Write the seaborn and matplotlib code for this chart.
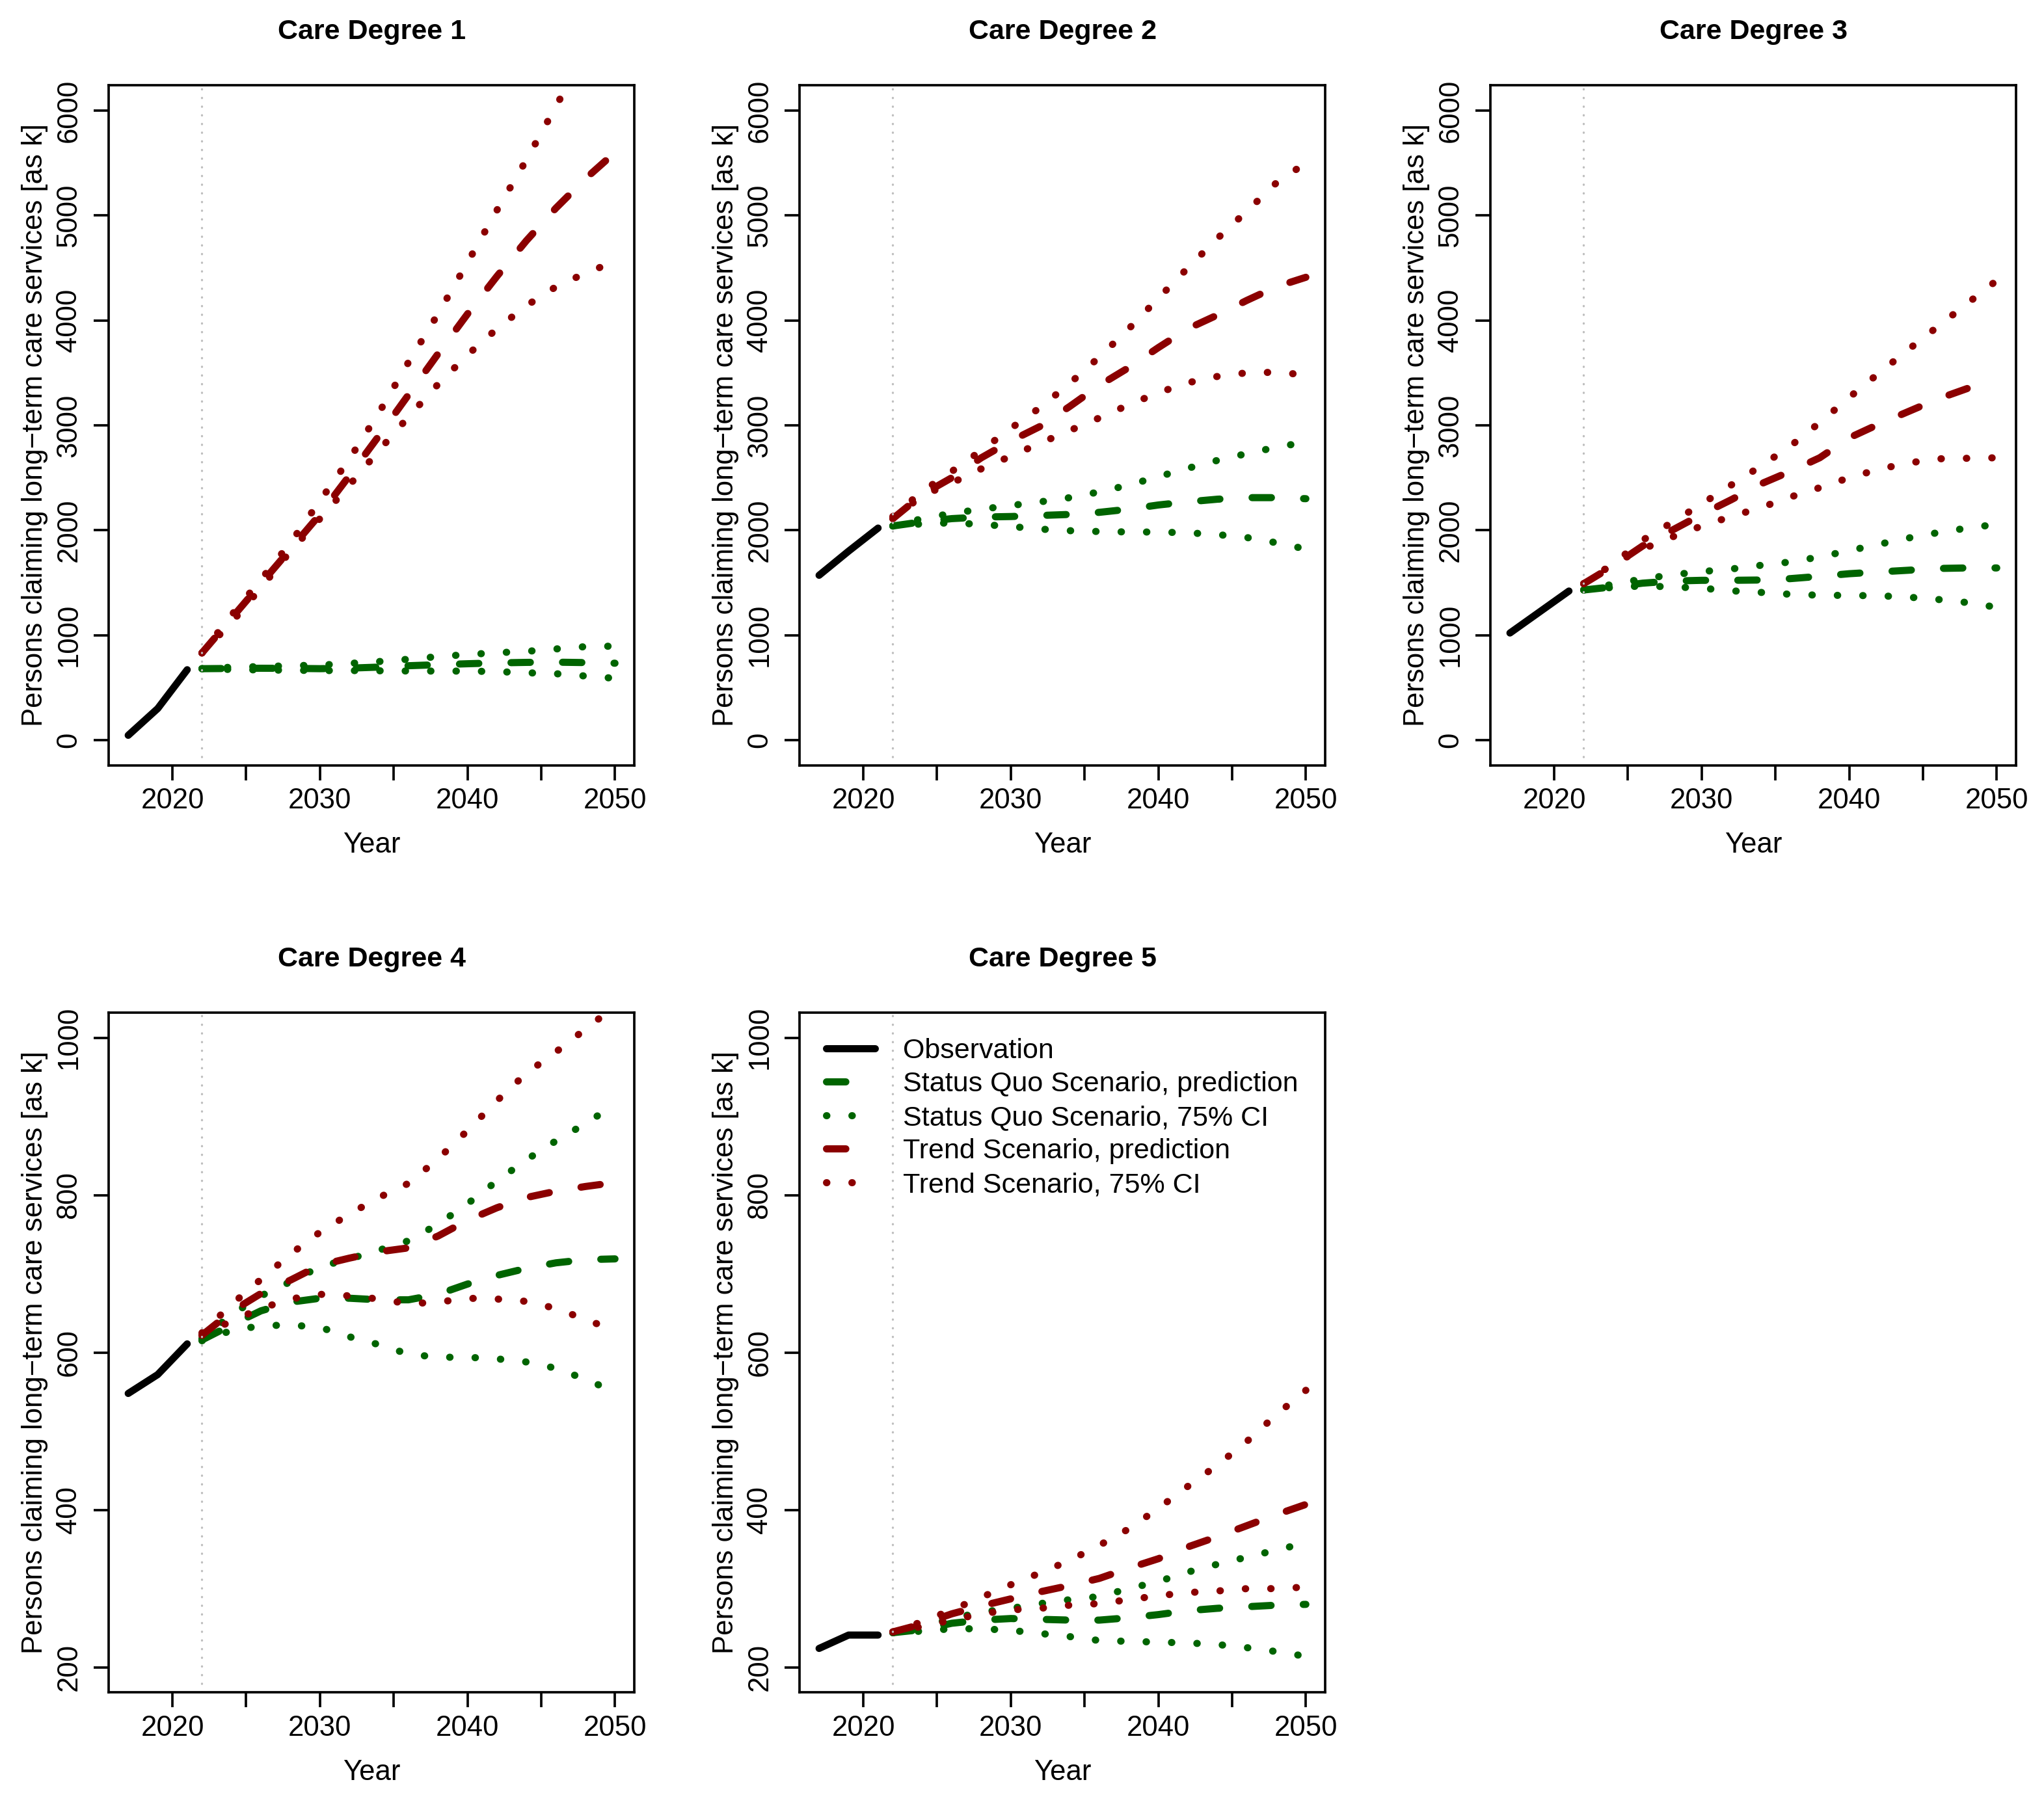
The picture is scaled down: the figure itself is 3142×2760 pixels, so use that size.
import seaborn as sns
import matplotlib.pyplot as plt

# observed years and forecast years
OBS_YEARS = [2017, 2019, 2021]
PRED_YEARS = [2022, 2024, 2026, 2028, 2030, 2032, 2034, 2036,
              2038, 2040, 2042, 2044, 2046, 2048, 2050]

# Care Degree 1
D1_OBS = [45, 300, 670]
D1_SQ = [680, 682, 684, 683, 680, 685, 695, 708, 718, 727, 735, 740, 742, 738, 732]
D1_SQ_HI = [680, 694, 700, 708, 714, 730, 748, 770, 795, 815, 832, 845, 868, 890, 895]
D1_SQ_LO = [680, 672, 668, 665, 662, 662, 660, 658, 657, 657, 652, 641, 632, 610, 588]
D1_TR = [830, 1160, 1490, 1820, 2150, 2520, 2900, 3290, 3680, 4060, 4420, 4760, 5070, 5350, 5600]
D1_TR_HI = [830, 1190, 1530, 1880, 2280, 2680, 3120, 3600, 4060, 4550, 5050, 5530, 6040, 6550, 7050]
D1_TR_LO = [830, 1120, 1450, 1800, 2110, 2430, 2760, 3080, 3390, 3670, 3920, 4140, 4320, 4450, 4560]

# Care Degree 2
D2_OBS = [1570, 1800, 2020]
D2_SQ = [2040, 2080, 2110, 2125, 2130, 2140, 2150, 2170, 2200, 2240, 2270, 2295, 2310, 2310, 2300]
D2_SQ_HI = [2040, 2110, 2160, 2200, 2235, 2270, 2310, 2365, 2430, 2510, 2590, 2665, 2730, 2790, 2840]
D2_SQ_LO = [2040, 2060, 2070, 2055, 2035, 2010, 1995, 1987, 1983, 1982, 1975, 1958, 1930, 1880, 1820]
D2_TR = [2110, 2340, 2500, 2690, 2850, 2990, 3180, 3380, 3550, 3740, 3920, 4050, 4190, 4320, 4410]
D2_TR_HI = [2130, 2370, 2560, 2760, 2970, 3170, 3400, 3650, 3920, 4210, 4500, 4780, 5040, 5310, 5500]
D2_TR_LO = [2110, 2330, 2450, 2585, 2705, 2830, 2950, 3070, 3195, 3310, 3405, 3465, 3500, 3505, 3480]

# Care Degree 3
D3_OBS = [1020, 1220, 1420]
D3_SQ = [1430, 1460, 1495, 1515, 1522, 1522, 1525, 1538, 1560, 1585, 1602, 1618, 1635, 1640, 1640]
D3_SQ_HI = [1430, 1485, 1535, 1575, 1605, 1630, 1665, 1697, 1745, 1805, 1865, 1925, 1976, 2020, 2055]
D3_SQ_LO = [1430, 1455, 1468, 1460, 1447, 1422, 1407, 1389, 1380, 1378, 1375, 1362, 1340, 1310, 1265]
D3_TR = [1490, 1660, 1850, 2000, 2150, 2290, 2440, 2560, 2690, 2880, 3010, 3130, 3250, 3350, 3440]
D3_TR_HI = [1490, 1680, 1905, 2075, 2250, 2430, 2610, 2800, 3025, 3265, 3495, 3720, 3940, 4160, 4380]
D3_TR_LO = [1490, 1680, 1820, 1935, 2040, 2130, 2215, 2315, 2405, 2500, 2580, 2640, 2680, 2685, 2690]

# Care Degree 4
D4_OBS = [548, 572, 611]
D4_SQ = [616, 635, 653, 664, 669, 669, 667, 667, 674, 687, 698, 707, 714, 718, 719]
D4_SQ_HI = [618, 648, 672, 690, 709, 719, 730, 742, 763, 789, 818, 845, 869, 891, 915]
D4_SQ_LO = [615, 628, 634, 635, 632, 620, 610, 598, 594, 594, 592, 588, 580, 566, 550]
D4_TR = [622, 652, 675, 692, 711, 720, 728, 733, 748, 768, 784, 797, 805, 811, 816]
D4_TR_HI = [625, 661, 693, 725, 753, 776, 797, 815, 846, 882, 920, 955, 982, 1011, 1040]
D4_TR_LO = [622, 640, 656, 668, 674, 672, 668, 662, 664, 669, 668, 665, 656, 642, 628]

# Care Degree 5
D5_OBS = [224, 241, 241]
D5_SQ = [244, 248, 256, 260, 262, 261, 260, 260, 263, 267, 272, 275, 277, 279, 280]
D5_SQ_HI = [244, 252, 262, 270, 275, 281, 286, 290, 300, 309, 321, 331, 340, 349, 358]
D5_SQ_LO = [244, 246, 249, 249, 247, 243, 239, 234, 233, 232, 231, 229, 225, 220, 214]
D5_TR = [245, 255, 268, 278, 287, 296, 304, 313, 326, 338, 353, 366, 380, 394, 407]
D5_TR_HI = [245, 258, 273, 289, 305, 320, 336, 355, 376, 402, 430, 457, 487, 521, 552]
D5_TR_LO = [245, 252, 260, 268, 273, 275, 279, 281, 286, 291, 295, 297, 300, 300, 302]

TITLES = ["Care Degree 1", "Care Degree 2", "Care Degree 3", "Care Degree 4", "Care Degree 5"]
LEGEND_LABELS = ["Observation", "Status Quo Scenario, prediction", "Status Quo Scenario, 75% CI",
                 "Trend Scenario, prediction", "Trend Scenario, 75% CI"]

GREEN = "#006400"
RED = "#8B0000"
GREY = "#BEBEBE"
LW = 3.96
DASHED = (0, (2.7, 4.5))
DOTTED = (0, (0.05, 3.5))
FS = 15.7

sns.set_theme(style="ticks")
plt.rcParams["font.family"] = ["Liberation Sans", "DejaVu Sans"]
plt.rcParams["axes.linewidth"] = 1.33
plt.rcParams["xtick.major.width"] = 1.33
plt.rcParams["ytick.major.width"] = 1.33
plt.rcParams["xtick.major.size"] = 8.2
plt.rcParams["ytick.major.size"] = 8.2
plt.rcParams["axes.edgecolor"] = "black"
plt.rcParams["xtick.color"] = "black"
plt.rcParams["ytick.color"] = "black"
plt.rcParams["text.color"] = "black"
plt.rcParams["axes.labelcolor"] = "black"


def line(ax, x, y, color, style, label=None):
    sns.lineplot(x=x, y=y, ax=ax, color=color, linewidth=LW, linestyle=style,
                 dash_capstyle="round", solid_capstyle="round", label=label,
                 legend=False, sort=False, estimator=None)


def draw_panel(ax, title, obs, sq, sq_hi, sq_lo, tr, tr_hi, tr_lo, ylim, yticks):
    line(ax, OBS_YEARS, obs, "black", "-", LEGEND_LABELS[0])
    line(ax, PRED_YEARS, sq, GREEN, DASHED, LEGEND_LABELS[1])
    line(ax, PRED_YEARS, sq_hi, GREEN, DOTTED, LEGEND_LABELS[2])
    line(ax, PRED_YEARS, sq_lo, GREEN, DOTTED)
    line(ax, PRED_YEARS, tr, RED, DASHED, LEGEND_LABELS[3])
    line(ax, PRED_YEARS, tr_hi, RED, DOTTED, LEGEND_LABELS[4])
    line(ax, PRED_YEARS, tr_lo, RED, DOTTED)
    ax.axvline(2022, color=GREY, linewidth=1.2, linestyle=(0, (0.1, 3.9)),
               dash_capstyle="round")

    ax.set_xlim(2015.68, 2051.32)
    ax.set_ylim(*ylim)
    ax.set_xticks([2020, 2025, 2030, 2035, 2040, 2045, 2050])
    ax.set_xticklabels(["2020", "", "2030", "", "2040", "", "2050"])
    ax.set_yticks(yticks)
    ax.set_yticklabels([str(v) for v in yticks], rotation=90, va="center")
    ax.tick_params(axis="x", labelsize=FS, pad=4.3, direction="out")
    ax.tick_params(axis="y", labelsize=FS, pad=6.5, direction="out")
    for s in ax.spines.values():
        s.set_visible(True)
    ax.set_title(title, fontweight="bold", fontsize=15.5, pad=25.6)
    ax.set_xlabel("Year", fontsize=FS, labelpad=9.5)
    ax.set_ylabel("Persons claiming long\u2212term care services [as k]", fontsize=FS, labelpad=4)


fig = plt.figure(figsize=(15.71, 13.8), dpi=200)
col_left = [0.0532, 0.3912, 0.7292]
w = 0.2572
row_bottom = [0.5737, 0.0571]
h = 0.3788

panels = [
    (D1_OBS, D1_SQ, D1_SQ_HI, D1_SQ_LO, D1_TR, D1_TR_HI, D1_TR_LO),
    (D2_OBS, D2_SQ, D2_SQ_HI, D2_SQ_LO, D2_TR, D2_TR_HI, D2_TR_LO),
    (D3_OBS, D3_SQ, D3_SQ_HI, D3_SQ_LO, D3_TR, D3_TR_HI, D3_TR_LO),
    (D4_OBS, D4_SQ, D4_SQ_HI, D4_SQ_LO, D4_TR, D4_TR_HI, D4_TR_LO),
    (D5_OBS, D5_SQ, D5_SQ_HI, D5_SQ_LO, D5_TR, D5_TR_HI, D5_TR_LO),
]

axes = []
for i, data in enumerate(panels):
    r, c = divmod(i, 3)
    ax = fig.add_axes([col_left[c], row_bottom[r], w, h])
    if r == 0:
        ylim, yticks = (-240, 6240), [0, 1000, 2000, 3000, 4000, 5000, 6000]
    else:
        ylim, yticks = (168, 1032), [200, 400, 600, 800, 1000]
    draw_panel(ax, TITLES[i], *data, ylim, yticks)
    axes.append(ax)

# legend only in the last panel
ax5 = axes[4]
handles, labels = ax5.get_legend_handles_labels()
ax5.legend(handles, labels, loc="upper left", bbox_to_anchor=(0.05, 0.963),
           frameon=False, fontsize=15.5, handlelength=1.75, handletextpad=1.0,
           borderpad=0, borderaxespad=0, labelspacing=0.27)

fig.savefig("out.png", dpi=200)
